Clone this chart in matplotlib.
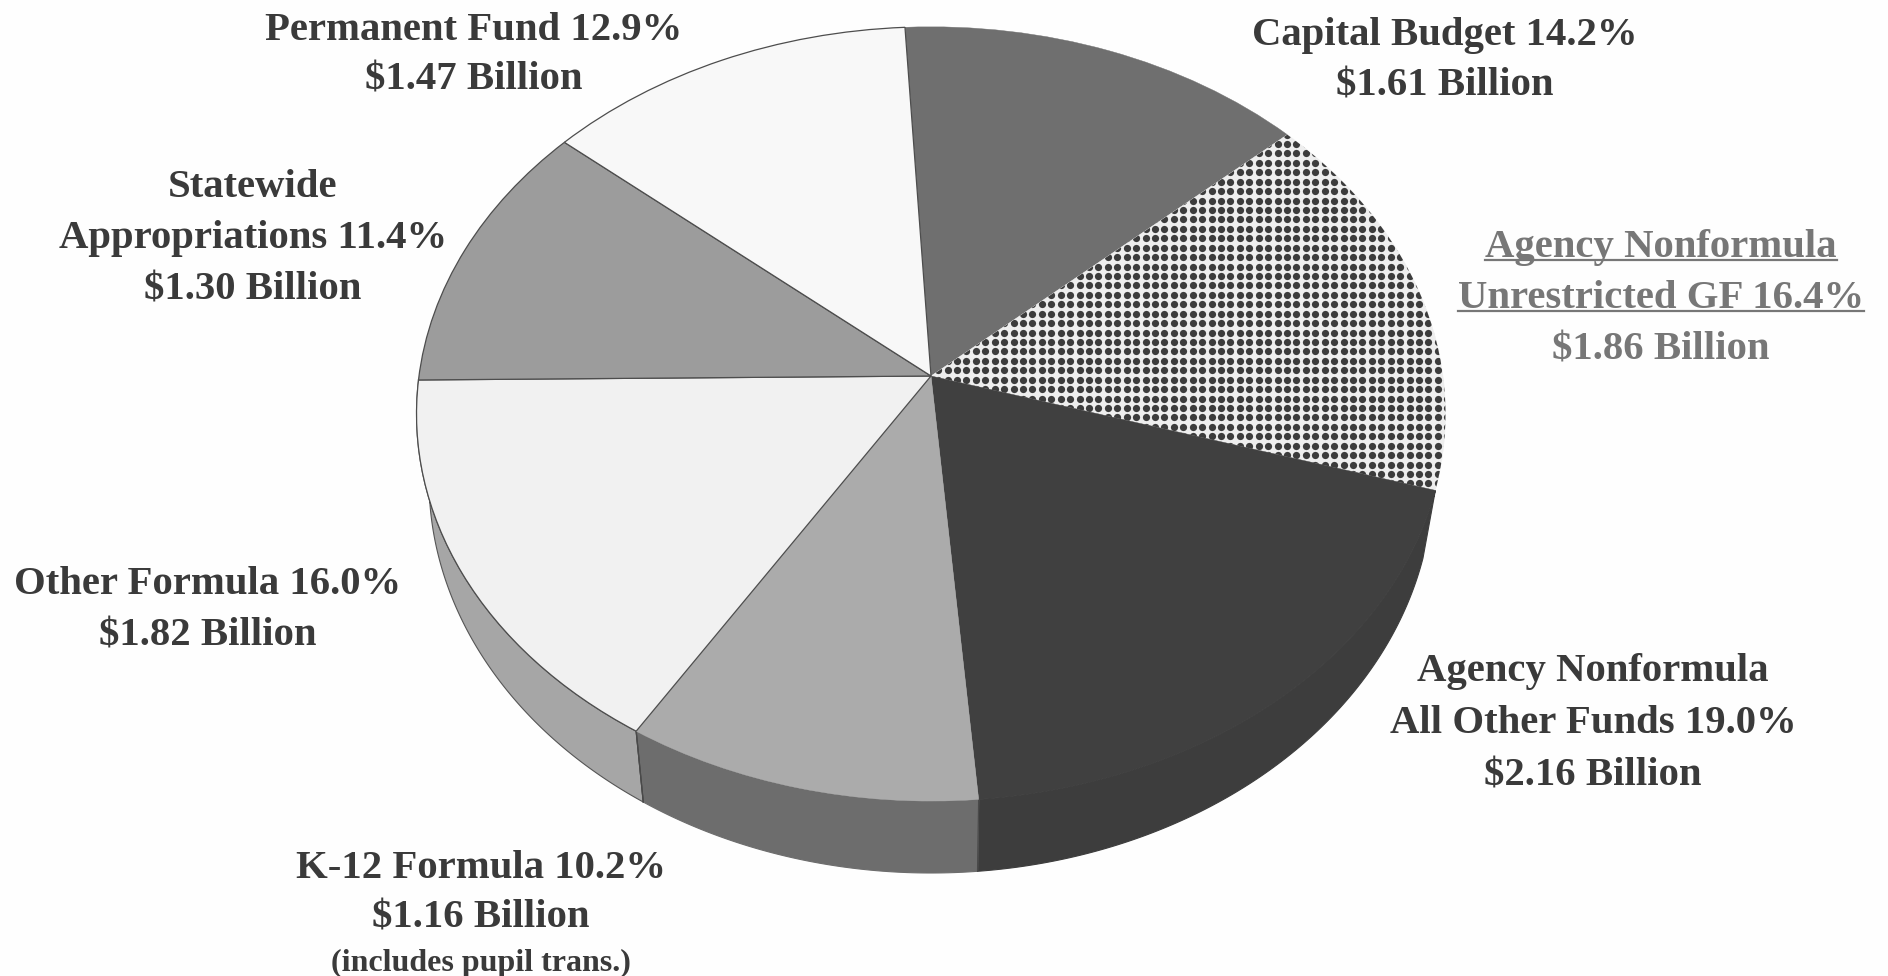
import numpy as np
import matplotlib
matplotlib.use("Agg")
import matplotlib.pyplot as plt
from matplotlib.transforms import Transform

# ---- data ----
categories = ["Capital Budget", "Agency Nonformula Unrestricted GF",
              "Agency Nonformula All Other Funds", "K-12 Formula",
              "Other Formula", "Statewide Appropriations", "Permanent Fund"]
percent = [14.2, 16.4, 19.0, 10.2, 16.0, 11.4, 12.9]
top_colors = ["#6f6f6f", "#eeeeee", "#404040", "#ababab", "#f1f1f1", "#9c9c9c", "#f8f8f8"]
side_colors = [None, None, "#3d3d3d", "#6d6d6d", "#a6a6a6", None, None]
edge_on = [False, False, False, False, True, True, True]

label_lines = [
    ["Permanent Fund 12.9%", "$1.47 Billion"],
    ["Capital Budget 14.2%", "$1.61 Billion"],
    ["Agency Nonformula", "Unrestricted GF 16.4%", "$1.86 Billion"],
    ["Statewide", "Appropriations 11.4%", "$1.30 Billion"],
    ["Other Formula 16.0%", "$1.82 Billion"],
    ["Agency Nonformula", "All Other Funds 19.0%", "$2.16 Billion"],
    ["K-12 Formula 10.2%", "$1.16 Billion"],
]
label_x = [474, 1445, 1661, 253, 208, 1593, 481]
label_y = [[40, 90], [45, 96], [257, 308, 360], [197, 248, 299],
           [594, 645], [681, 733, 785], [878, 928]]
label_colors = ["#3a3a3a", "#3a3a3a", "#777777", "#3a3a3a", "#3a3a3a", "#3a3a3a", "#3a3a3a"]
note = "(includes pupil trans.)"

# ---- perspective of the pie's plane, in pixel coordinates ----
APEX_X, APEX_Y, A, B, K = 931.0, 376.0, 512.0, 383.4, 0.098


class Perspective(Transform):
    input_dims = output_dims = 2
    is_separable = False
    has_inverse = False

    def transform_non_affine(self, values):
        v = np.asarray(values, dtype=float)
        d = 1 + K * v[:, 1]
        return np.column_stack((APEX_X + A * v[:, 0] / d, APEX_Y - B * v[:, 1] / d))


persp = Perspective()
E_CX, E_CY, E_RX, E_RY = 931.0, 413.0, 514.0, 388.0     # rim of the top face
L_CX, L_CY, L_RX, L_RY = 931.0, 480.0, 502.0, 393.0     # rim of the base


def base_of(pts):
    phi = np.arctan2((pts[:, 0] - E_CX) / E_RX, -(pts[:, 1] - E_CY) / E_RY)
    return np.column_stack((L_CX + L_RX * np.sin(phi), L_CY - L_RY * np.cos(phi)))


fig = plt.figure(figsize=(18.88, 9.76), dpi=100, facecolor="#fefefe")
ax = fig.add_axes([0, 0, 1, 1])
wedges, _ = ax.pie(percent, startangle=93.2, counterclock=False, colors=top_colors,
                   radius=1.0, center=(0, 0))
ax.set_aspect("auto")
ax.set_xlim(0, 1888)
ax.set_ylim(976, 0)
ax.axis("off")

# side walls
for w, sc in zip(wedges, side_colors):
    if sc is None:
        continue
    th = np.radians(np.linspace(w.theta1, w.theta2, 120))
    top = persp.transform(np.column_stack((np.cos(th), np.sin(th))))
    low = base_of(top)
    poly = np.vstack((top, low[::-1]))
    ax.fill(poly[:, 0], poly[:, 1], facecolor=sc, edgecolor="#555555" if sc == "#a6a6a6" else sc,
            lw=0.8, zorder=1)
    for p, q in ((top[0], low[0]), (top[-1], low[-1])):
        if sc != "#3d3d3d":
            ax.plot([p[0], q[0]], [p[1], q[1]], color="#4a4a4a", lw=0.9, zorder=1.5)

# top faces
for w, on in zip(wedges, edge_on):
    w.set_transform(persp + ax.transData)
    w.set_zorder(2)
    w.set_edgecolor("#4d4d4d" if on else w.get_facecolor())
    w.set_linewidth(0.9 if on else 0.3)

# dot screen of the unrestricted GF slice
STEP = 9.43
gx, gy = np.meshgrid(np.arange(1155 - 40 * STEP, 1470, STEP), np.arange(342 - 25 * STEP, 520, STEP))
dots = ax.scatter(gx.ravel(), gy.ravel(), s=27, c="#3c3c3c", linewidths=0, zorder=3)
dots.set_clip_path(wedges[1])

# labels
font = dict(family="Liberation Serif", weight="bold", fontsize=29.3, ha="center", va="baseline", zorder=5)
texts = []
for lines, x, ys, col in zip(label_lines, label_x, label_y, label_colors):
    for s, y in zip(lines, ys):
        texts.append(ax.text(x, y, s, color=col, **font))
ax.text(481, 971, note, color="#3a3a3a", family="Liberation Serif", weight="bold",
        fontsize=23, ha="center", va="baseline", zorder=5)

# underlines follow the text extents
fig.canvas.draw()
inv = ax.transData.inverted()
for t in texts:
    if t.get_color() == "#777777" and not t.get_text().startswith("$"):
        bb = t.get_window_extent()
        (x0, _), (x1, _) = inv.transform([(bb.x0, bb.y0), (bb.x1, bb.y0)])
        yc = t.get_position()[1] + 2.5
        ax.plot([x0, x1], [yc, yc], color="#777777", lw=1.6, zorder=5)

fig.savefig("out.png", dpi=100, facecolor=fig.get_facecolor())
